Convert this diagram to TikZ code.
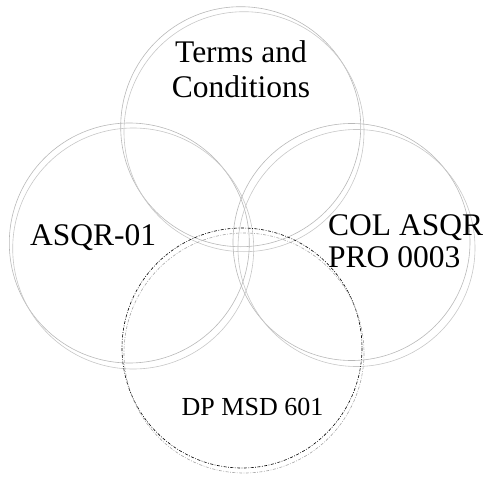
\documentclass[tikz,border=0pt]{standalone}
\usepackage{fontspec}
\setmainfont{Liberation Serif}
\begin{document}
\begin{tikzpicture}[x=1pt,y=-1pt,
  ring/.style={draw=black!28,line width=0.6pt},
  ringb/.style={draw=black!22,line width=0.6pt},
  dd/.style={draw=black,line width=0.6pt,dash pattern=on 3pt off 1.5pt on 0.8pt off 1.5pt},
  ddb/.style={draw=black!35,line width=0.6pt,dash pattern=on 3pt off 1.5pt on 0.8pt off 1.5pt},
  big/.style={font=\fontsize{31.5}{35}\selectfont,inner sep=0pt},
  small/.style={font=\fontsize{26}{30}\selectfont,inner sep=0pt}]
\useasboundingbox (0,0) rectangle (485,477);
% top circle
\draw[ring] (240.7,126.7) circle[radius=120];
\draw[ringb] (244,131.7) circle[radius=120];
% left circle
\draw[ring] (129.3,243) circle[radius=120];
\draw[ringb] (133.2,248.5) circle[radius=120.5];
% right circle
\draw[ring] (351.5,242) circle[radius=118.5];
\draw[ringb] (356.5,248) circle[radius=118.5];
% bottom circle
\draw[dd] (242,348) circle[radius=120];
\draw[ddb] (244,353) circle[radius=120];
% labels
\node[big,align=center,anchor=base] (t1) at (241,62) {Terms and};
\node[big,align=center,anchor=base] (t2) at (241,97) {Conditions};
\node[big,anchor=base west] (asqr) at (30,245) {ASQR-01};
\node[big,anchor=base west] (c1) at (328,235.5) {COL ASQR};
\node[big,anchor=base west] (c2) at (328,267) {PRO 0003};
\node[small,anchor=base] (dp) at (252.5,415) {DP MSD 601};
\end{tikzpicture}
\end{document}
